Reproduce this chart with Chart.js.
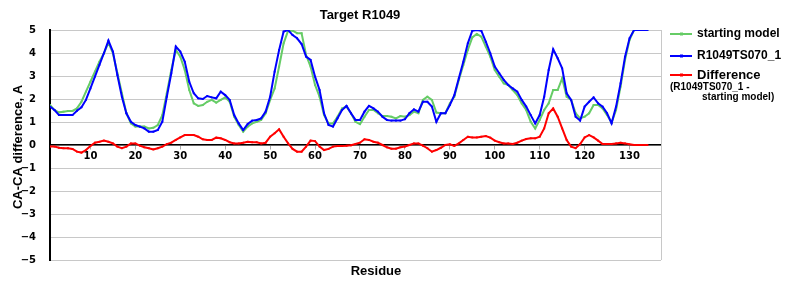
<html lang="en">
<head>
  <meta charset="utf-8">
  <title>Target R1049</title>
  <style>
    body { margin: 0; background: #fff; }
    #wrap { width: 800px; height: 300px; }
  </style>
</head>
<body>
  <div id="wrap">
    <canvas id="myChart" width="800" height="300"></canvas>
  </div>
  <script src="https://cdn.jsdelivr.net/npm/chart.js"></script>
  <script>
    // residue numbers 1..134
    const residues = Array.from({ length: 134 }, (_, i) => i + 1)

    const startingModel = [
      1.74, 1.52, 1.42, 1.45, 1.48, 1.48, 1.59, 1.88, 2.32, 2.75,
      3.19, 3.62, 3.99, 4.45, 3.99, 3.12, 2.25, 1.38, 0.94, 0.80,
      0.80, 0.80, 0.72, 0.75, 0.87, 1.30, 2.25, 3.26, 4.13, 3.84,
      3.26, 2.39, 1.81, 1.70, 1.74, 1.88, 1.96, 1.84, 1.96, 2.07,
      1.88, 1.23, 0.87, 0.58, 0.80, 0.94, 1.01, 1.09, 1.38, 1.96,
      2.46, 3.41, 4.42, 4.97, 4.97, 4.86, 4.86, 3.91, 3.41, 2.61,
      2.10, 1.30, 0.94, 0.94, 1.23, 1.59, 1.67, 1.38, 1.01, 0.91,
      1.23, 1.52, 1.52, 1.38, 1.26, 1.26, 1.23, 1.16, 1.26, 1.23,
      1.30, 1.45, 1.38, 1.96, 2.10, 1.96, 1.41, 1.38, 1.38, 1.81,
      2.10, 2.83, 3.48, 4.13, 4.68, 4.83, 4.71, 4.28, 3.84, 3.26,
      2.97, 2.68, 2.61, 2.39, 2.17, 1.81, 1.52, 1.01, 0.72, 1.09,
      1.52, 1.81, 2.39, 2.39, 2.90, 2.10, 1.96, 1.38, 1.16, 1.23,
      1.38, 1.74, 1.74, 1.59, 1.30, 0.97, 1.52, 2.54, 3.70, 4.57,
      5.00, 5.00, 5.00, 5.00
    ]

    const model = [
      1.67, 1.52, 1.30, 1.30, 1.30, 1.30, 1.49, 1.64, 1.96, 2.46,
      2.97, 3.48, 3.99, 4.54, 4.06, 3.04, 2.10, 1.38, 1.01, 0.87,
      0.80, 0.72, 0.58, 0.58, 0.65, 1.01, 2.10, 3.12, 4.28, 4.06,
      3.62, 2.75, 2.25, 2.03, 2.00, 2.13, 2.07, 2.03, 2.32, 2.17,
      1.96, 1.30, 0.94, 0.65, 0.91, 1.06, 1.09, 1.16, 1.45, 2.10,
      3.19, 4.13, 4.93, 5.00, 4.78, 4.64, 4.39, 3.84, 3.70, 2.97,
      2.39, 1.38, 0.87, 0.80, 1.16, 1.52, 1.70, 1.38, 1.09, 1.09,
      1.45, 1.70, 1.59, 1.45, 1.23, 1.09, 1.06, 1.06, 1.06, 1.12,
      1.38, 1.55, 1.45, 1.88, 1.88, 1.67, 1.01, 1.38, 1.38, 1.74,
      2.17, 2.90, 3.62, 4.42, 4.97, 5.00, 4.97, 4.49, 3.99, 3.41,
      3.12, 2.83, 2.61, 2.46, 2.32, 1.96, 1.67, 1.30, 0.94, 1.30,
      2.10, 3.26, 4.16, 3.77, 3.33, 2.25, 1.96, 1.23, 1.06, 1.67,
      1.88, 2.07, 1.81, 1.67, 1.38, 0.94, 1.67, 2.68, 3.84, 4.64,
      5.00, 5.00, 5.00, 5.00
    ]

    const difference = [
      -0.07, -0.07, -0.12, -0.14, -0.14, -0.17, -0.29, -0.33, -0.22, -0.04,
      0.10, 0.14, 0.19, 0.14, 0.07, -0.07, -0.14, -0.07, 0.07, 0.07,
      -0.03, -0.10, -0.14, -0.19, -0.14, -0.07, 0.04, 0.10, 0.22, 0.33,
      0.43, 0.43, 0.43, 0.36, 0.25, 0.22, 0.22, 0.32, 0.29, 0.22,
      0.12, 0.07, 0.07, 0.10, 0.14, 0.12, 0.12, 0.07, 0.10, 0.36,
      0.51, 0.68, 0.36, 0.07, -0.17, -0.29, -0.29, -0.07, 0.19, 0.17,
      -0.07, -0.22, -0.17, -0.07, -0.04, -0.04, -0.03, -0.01, 0.04, 0.10,
      0.25, 0.22, 0.14, 0.10, 0.00, -0.10, -0.16, -0.16, -0.10, -0.07,
      0.00, 0.07, 0.07, -0.03, -0.14, -0.29, -0.22, -0.12, 0.00, 0.03,
      -0.04, 0.07, 0.22, 0.36, 0.33, 0.33, 0.36, 0.39, 0.32, 0.19,
      0.12, 0.07, 0.07, 0.04, 0.10, 0.19, 0.26, 0.29, 0.29, 0.36,
      0.72, 1.38, 1.59, 1.23, 0.72, 0.22, -0.07, -0.14, 0.04, 0.33,
      0.43, 0.33, 0.19, 0.04, 0.04, 0.04, 0.07, 0.10, 0.07, 0.03,
      0.00, 0.00, 0.00, 0.00
    ]

    const xTicks = [10, 20, 30, 40, 50, 60, 70, 80, 90, 100, 110, 120, 130]
    const yTicks = [-5, -4, -3, -2, -1, 0, 1, 2, 3, 4, 5]

    const GREEN = 'rgb(102,204,102)'
    const BLUE = 'rgb(0,0,255)'
    const RED = 'rgb(255,0,0)'
    const FONT = '"Liberation Sans", Arial, sans-serif'
    const TICK_FONT = '"DejaVu Sans", Verdana, sans-serif'

    function points(values) {
      return residues.map((r, i) => ({ x: r, y: values[i] }))
    }

    function series(label, values, color, order) {
      return {
        label: label,
        data: points(values),
        borderColor: color,
        backgroundColor: color,
        borderWidth: 2,
        pointRadius: 1.3,
        pointStyle: 'rect',
        pointBorderWidth: 0,
        tension: 0,
        order: order
      }
    }

    // titles, legend and right border drawn by hand
    const decorations = {
      id: 'decorations',
      afterDraw(chart) {
        const ctx = chart.ctx
        const area = chart.chartArea
        ctx.save()
        ctx.strokeStyle = '#c8c8c8'
        ctx.lineWidth = 1
        ctx.beginPath()
        ctx.moveTo(area.right + 0.5, area.top)
        ctx.lineTo(area.right + 0.5, area.bottom)
        ctx.stroke()

        ctx.fillStyle = '#000'
        ctx.textBaseline = 'middle'
        ctx.textAlign = 'center'
        ctx.font = 'bold 13px ' + FONT
        ctx.fillText('Target R1049', 360, 15)
        ctx.fillText('Residue', 376, 271)

        ctx.save()
        ctx.translate(18, 147)
        ctx.rotate(-Math.PI / 2)
        ctx.fillText('CA-CA difference, A', 0, 0)
        ctx.restore()

        const rows = [
          { color: GREEN, text: 'starting model', y: 34, size: 12 },
          { color: BLUE, text: 'R1049TS070_1', y: 56, size: 12 },
          { color: RED, text: 'Difference', y: 75, size: 13 }
        ]
        ctx.textAlign = 'left'
        rows.forEach(row => {
          ctx.strokeStyle = row.color
          ctx.fillStyle = row.color
          ctx.lineWidth = 2
          ctx.beginPath()
          ctx.moveTo(670, row.y)
          ctx.lineTo(692, row.y)
          ctx.stroke()
          ctx.fillRect(680, row.y - 1.5, 3, 3)
          ctx.fillStyle = '#000'
          ctx.font = 'bold ' + row.size + 'px ' + FONT
          ctx.fillText(row.text, 697, row.y)
        })
        ctx.font = 'bold 10px ' + FONT
        ctx.fillText('(R1049TS070_1 -', 670, 87)
        ctx.fillText('starting model)', 702, 97)
        ctx.restore()
      }
    }

    function renderChart() {
      const ctx = document.getElementById('myChart')
      new Chart(ctx, {
        type: 'line',
        data: {
          datasets: [
            series('starting model', startingModel, GREEN, 3),
            series('R1049TS070_1', model, BLUE, 2),
            series('Difference', difference, RED, 1)
          ]
        },
        options: {
          responsive: false,
          animation: false,
          layout: { padding: { left: 0, top: 30, right: 139, bottom: 40 } },
          plugins: {
            legend: { display: false },
            title: { display: false },
            tooltip: { enabled: false }
          },
          scales: {
            x: {
              type: 'linear',
              position: { y: 0 },
              min: 1,
              max: 137,
              afterBuildTicks: scale => {
                scale.ticks = xTicks.map(v => ({ value: v }))
              },
              grid: {
                drawOnChartArea: false,
                drawTicks: true,
                tickLength: 4,
                color: '#aaaaaa'
              },
              border: { color: '#000', width: 1.5 },
              ticks: {
                color: '#000',
                font: { family: TICK_FONT, size: 10, weight: 'bold' },
                padding: 1,
                maxRotation: 0,
                autoSkip: false
              }
            },
            y: {
              min: -5,
              max: 5,
              afterBuildTicks: scale => {
                scale.ticks = yTicks.map(v => ({ value: v }))
              },
              afterFit: scale => { scale.width = 50 },
              grid: { color: '#c8c8c8', drawTicks: false },
              border: { color: '#000', width: 2 },
              ticks: {
                color: '#000',
                font: { family: TICK_FONT, size: 10, weight: 'bold' },
                padding: 14,
                callback: v => (v < 0 ? '\u2212' + Math.abs(v) : String(v))
              }
            }
          }
        },
        plugins: [decorations]
      })
    }

    window.onload = renderChart
  </script>
</body>
</html>
